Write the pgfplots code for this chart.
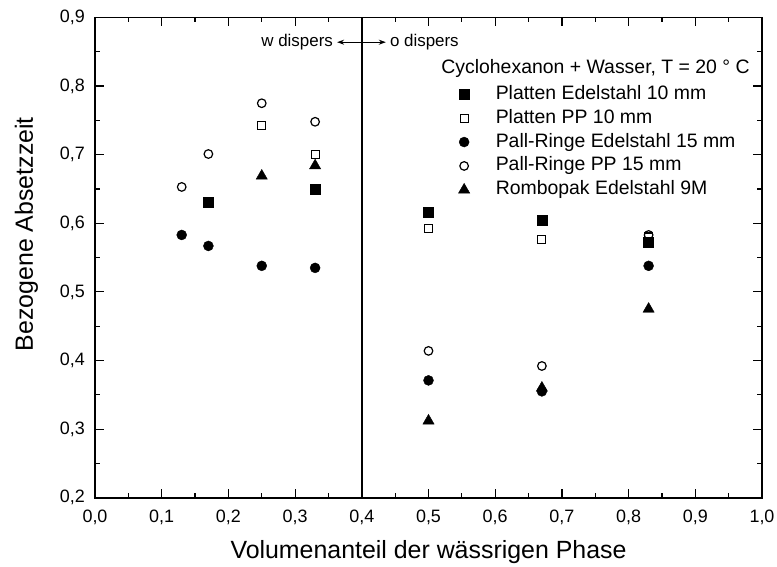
\documentclass[border=0pt]{standalone}
\usepackage{fontspec}
\setmainfont{Liberation Sans}
\usepackage{pgfplots}
\pgfplotsset{compat=1.18}
\usetikzlibrary{arrows.meta}
\begin{document}
\begin{tikzpicture}
\path[use as bounding box] (-95bp,-69.3bp) rectangle (682bp,497.7bp);
\begin{axis}[
  scale only axis, width=667bp, height=480.2bp,
  at={(0,0)}, anchor=south west,
  xmin=0, xmax=1, ymin=0.2, ymax=0.9,
  xtick={0,0.1,0.2,0.3,0.4,0.5,0.6,0.7,0.8,0.9,1.0},
  ytick={0.2,0.3,0.4,0.5,0.6,0.7,0.8,0.9},
  minor x tick num=1, minor y tick num=1,
  tick align=inside, major tick length=9bp, minor tick length=5bp,
  axis line style={line width=1.6bp},
  every tick/.style={line width=1.2bp, black},
  /pgf/number format/.cd, use comma, fixed, fixed zerofill, precision=1, assume math mode=true, /pgfplots/.cd,
  xticklabel style={font=\fontsize{18}{21}\selectfont, inner sep=0pt, anchor=north, yshift=-12bp},
  yticklabel style={font=\fontsize{18}{21}\selectfont, inner sep=0pt, anchor=east, xshift=-10bp},
  xlabel={Volumenanteil der wässrigen Phase},
  ylabel={Bezogene Absetzzeit},
  xlabel style={font=\fontsize{25}{30}\selectfont, at={(axis description cs:0.5,0)}, anchor=base, yshift=-60.3bp},
  ylabel style={font=\fontsize{25}{30}\selectfont, at={(axis description cs:-0.093,0.549)}, anchor=base},
  legend style={at={(axis cs:0.545,0.8027)}, anchor=north west, draw=none, fill=none,
    inner sep=0pt, outer sep=0pt,
    nodes={font=\fontsize{19.5}{23}\selectfont, inner sep=1bp, text height=14bp, text depth=4bp},
    row sep=3.9bp,
    /tikz/every odd column/.append style={column sep=25bp}},
  legend cell align=left,
]
\addplot[only marks, mark=square*, mark size=5bp, black] coordinates {
  (0.17,0.631)(0.33,0.649)(0.5,0.616)(0.67,0.604)(0.83,0.573)};
\addlegendentry{Platten Edelstahl 10 mm}
\addplot[only marks, mark=square, mark size=4bp, black, mark options={line width=1.2bp, fill=white}] coordinates {
  (0.25,0.742)(0.33,0.700)(0.5,0.592)(0.67,0.576)(0.83,0.580)};
\addlegendentry{Platten PP 10 mm}
\addplot[only marks, mark=*, mark size=5bp, black] coordinates {
  (0.13,0.583)(0.17,0.567)(0.25,0.538)(0.33,0.535)(0.5,0.371)(0.67,0.355)(0.83,0.538)};
\addlegendentry{Pall-Ringe Edelstahl 15 mm}
\addplot[only marks, mark=o, mark size=4.3bp, black, mark options={line width=1.2bp}] coordinates {
  (0.13,0.653)(0.17,0.701)(0.25,0.775)(0.33,0.748)(0.5,0.414)(0.67,0.392)(0.83,0.583)};
\addlegendentry{Pall-Ringe PP 15 mm}
\addplot[only marks, mark=triangle*, mark size=6.5bp, black] coordinates {
  (0.25,0.669)(0.33,0.684)(0.5,0.312)(0.67,0.360)(0.83,0.475)};
\addlegendentry{Rombopak Edelstahl 9M}
\addplot[black, line width=1.5bp, forget plot] coordinates {(0.4,0.2)(0.4,0.9)};
\draw[{Stealth[length=7bp,width=5bp]}-{Stealth[length=7bp,width=5bp]}, line width=1bp]
  (axis cs:0.363,0.864) -- (axis cs:0.436,0.864);
\node[anchor=east, inner sep=0pt, font=\fontsize{17}{20}\selectfont] at (axis cs:0.357,0.864) {w dispers};
\node[anchor=west, inner sep=0pt, font=\fontsize{17}{20}\selectfont] at (axis cs:0.442,0.864) {o dispers};
\node[anchor=west, inner sep=0pt, font=\fontsize{19.5}{23}\selectfont] at (axis cs:0.519,0.826) {Cyclohexanon + Wasser, T = 20 ° C};
\end{axis}
\end{tikzpicture}
\end{document}
